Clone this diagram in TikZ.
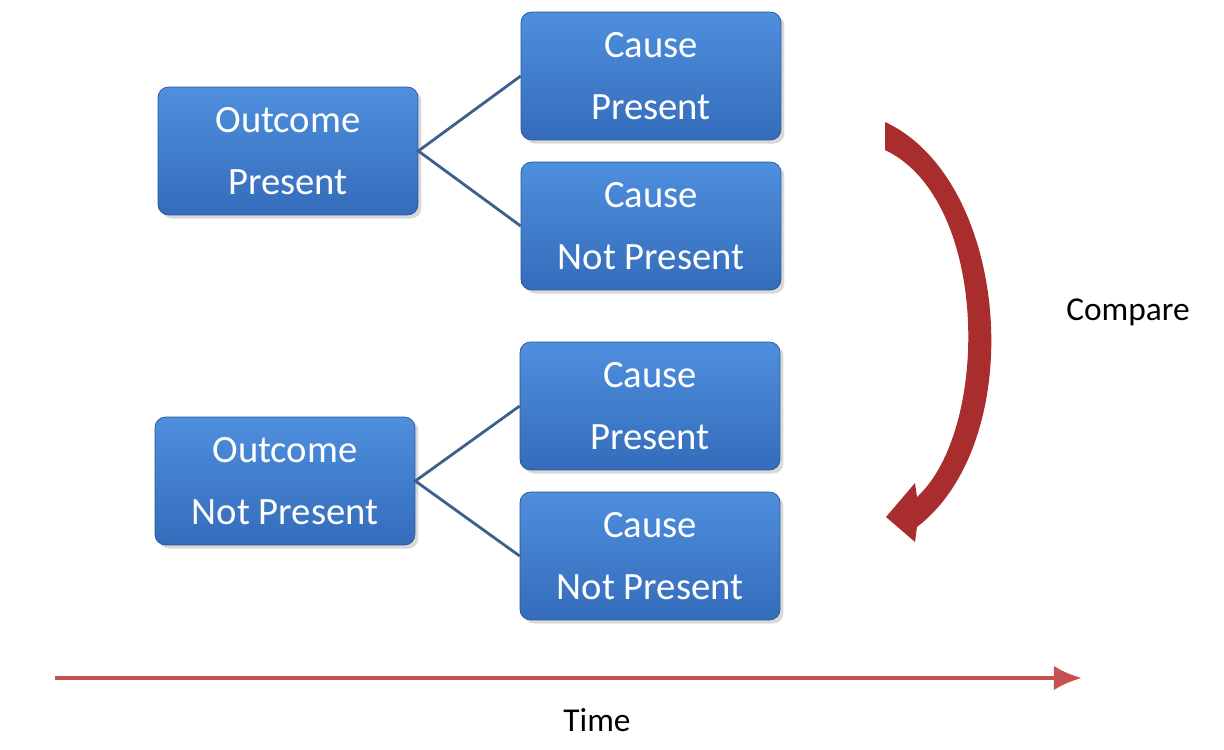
\documentclass[tikz,border=0pt]{standalone}
\usepackage{fontspec}
\setmainfont{Carlito}
\usetikzlibrary{positioning,shadows,arrows.meta}
\definecolor{boxtop}{RGB}{78,143,222}
\definecolor{boxbot}{RGB}{52,108,186}
\definecolor{branch}{RGB}{60,95,140}
\definecolor{cmpred}{RGB}{170,45,45}
\definecolor{timered}{RGB}{200,80,80}
\tikzset{
  box/.style={draw=boxbot!80!black,rounded corners=6pt,top color=boxtop,bottom color=boxbot,
    minimum width=5.2cm,minimum height=2.56cm,align=center,text=white,
    font=\fontsize{22}{35}\selectfont,drop shadow={opacity=0.3,shadow xshift=2pt,shadow yshift=-2pt}},
  branch/.style={draw=branch,line width=1.6pt}
}
\begin{document}
\begin{tikzpicture}[x=0.02cm,y=-0.02cm]
  \useasboundingbox (0,0) rectangle (1224,750);
  \node[box] (op) at (288,151) {Outcome\\Present};
  \node[box] (cp1) at (651,76) {Cause\\Present};
  \node[box] (cn1) at (651,226) {Cause\\Not Present};
  \node[box] (on) at (285,481) {Outcome\\Not Present};
  \node[box] (cp2) at (650,406) {Cause\\Present};
  \node[box] (cn2) at (650,556) {Cause\\Not Present};
  \draw[branch] (cp1.west) -- (op.east) -- (cn1.west);
  \draw[branch] (cp2.west) -- (on.east) -- (cn2.west);
  % curved compare arrow
  \fill[cmpred]
    (885,122) .. controls (1010,180) and (1030,440) .. (917,527)
    -- (915,542) -- (886,517) -- (915,483) -- (917,497)
    .. controls (990,430) and (990,200) .. (885,150) -- cycle;
  \node[font=\fontsize{19}{23}\selectfont] (cmp) at (1128,312) {Compare};
  % time axis
  \coordinate (t0) at (55,678);
  \coordinate (t1) at (1082,678);
  \draw[timered,line width=2.5pt,-{Latex[length=16pt,width=14pt]}] (t0) -- (t1);
  \node[font=\fontsize{19}{23}\selectfont] (time) at (597,720) {Time};
\end{tikzpicture}
\end{document}
